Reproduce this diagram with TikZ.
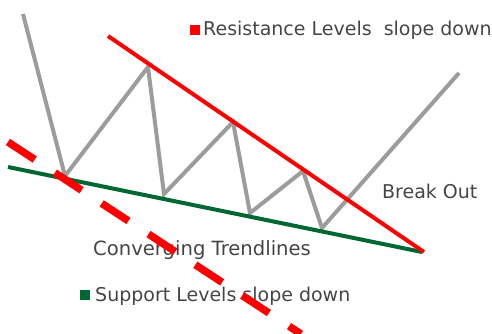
\documentclass[tikz,border=0pt]{standalone}
\usepackage{fontspec}
\setmainfont{DejaVu Sans}
\definecolor{zig}{HTML}{9C9C9C}
\definecolor{supp}{HTML}{006633}
\definecolor{txt}{HTML}{454545}
\begin{document}
\begin{tikzpicture}[x=1pt,y=-1pt,
  zigline/.style={draw=zig,line width=4pt,line join=miter},
  resline/.style={draw=red,line width=4pt},
  supline/.style={draw=supp,line width=4pt},
  dashline/.style={draw=red,line width=7.5pt,dash pattern=on 32pt off 24pt},
  lbl/.style={font=\fontsize{19}{21}\selectfont,text=txt,inner sep=0pt,anchor=west},
  sq/.style={minimum size=10pt,inner sep=0pt}]
\useasboundingbox (0,0) rectangle (492,334);
% zigzag points
\coordinate (z0) at (23,14);
\coordinate (z1) at (65,176);
\coordinate (z2) at (148,67);
\coordinate (z3) at (164,194);
\coordinate (z4) at (233,122);
\coordinate (z5) at (250,213);
\coordinate (z6) at (303,171);
\coordinate (z7) at (322,228);
\coordinate (z8) at (459,73);
\path[zigline] (z0) -- (z1) -- (z2) -- (z3) -- (z4) -- (z5) -- (z6) -- (z7) -- (z8);
% trendlines
\coordinate (rA) at (108,36);
\coordinate (rB) at (424,252);
\coordinate (gA) at (8,167);
\coordinate (gB) at (422,252);
\path[supline] (gA) -- (gB);
\path[resline] (rA) -- (rB);
% labels
\node[sq,fill=red] (rsq) at (195,30) {};
\node[lbl] (rtxt) at (203,30) {Resistance Levels\ \ slope down};
\node[lbl] (bo) at (382,191) {Break Out};
\node[lbl,font=\fontsize{19.6}{21}\selectfont] (ct) at (93,250) {Converging Trendlines};
\node[sq,fill=supp] (gsq) at (85,295) {};
\node[lbl] (stxt) at (95,296) {Support Levels slope down};
% dashed line
\coordinate (dA) at (8,142);
\coordinate (dB) at (301,334);
\path[dashline] (dA) -- (dB);
\end{tikzpicture}
\end{document}
